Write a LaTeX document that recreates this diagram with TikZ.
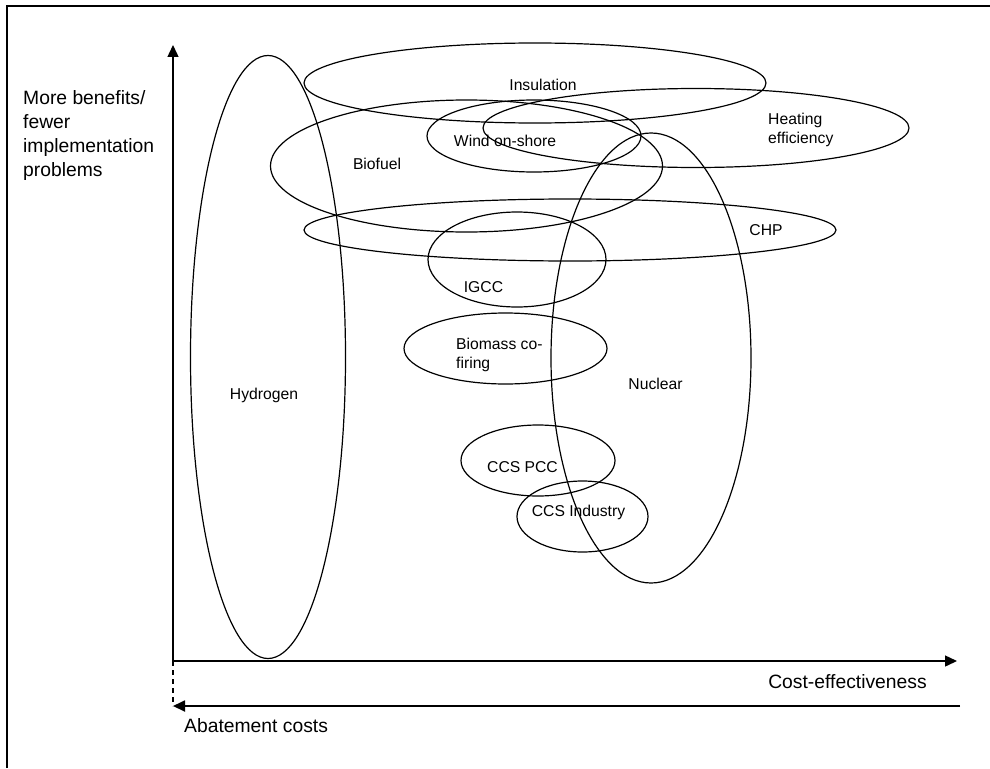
\documentclass[tikz,border=0pt]{standalone}
\usepackage{fontspec}
\setmainfont{Liberation Sans}
\usetikzlibrary{shapes.geometric,arrows.meta}

\tikzset{
  zone/.style={draw, ellipse, line width=1.2pt, inner sep=0pt},
  tag/.style={font=\fontsize{15.7}{19.5}\selectfont, inner sep=0pt},
  axistag/.style={font=\fontsize{19.3}{24}\selectfont, inner sep=0pt},
  axisline/.style={line width=1.4pt, -{Triangle[length=12pt,width=11pt]}}
}

\begin{document}
\begin{tikzpicture}[x=1pt, y=-1pt]
    \useasboundingbox (0,0) rectangle (990,768);

    % Cornice
    \draw[line width=2pt] (7,768) -- (7,6) -- (990,6);

    % Assi
    \coordinate (origin) at (173,661);
    \coordinate (ytip) at (173,45);
    \coordinate (xtip) at (957,661);
    \coordinate (xthick) at (897,661);
    \coordinate (abright) at (960,706);
    \coordinate (ableft) at (173,706);
    \draw[axisline] (origin) -- (ytip);
    \draw[axisline] (origin) -- (xtip);
    \draw[line width=2.2pt] (xthick) -- (946,661);
    \draw[line width=1.8pt, -{Triangle[length=12pt,width=11pt]}] (abright) -- (ableft);
    \draw[line width=1.2pt, dashed, dash pattern=on 5pt off 4pt] (origin) -- (ableft);

    \node[axistag, anchor=north west, align=left] (ylabel) at (23,90)
        {More benefits/\\fewer\\implementation\\problems};
    \node[axistag, anchor=base] (xlabel) at (847.5,688) {Cost-effectiveness};
    \node[axistag, anchor=base west] (ablabel) at (184,732) {Abatement costs};

    % Ellissi
    \node[zone, minimum width=155pt, minimum height=603pt] (hydrogen) at (268,357) {};
    \node[zone, minimum width=462pt, minimum height=80pt] (insulation) at (535,83) {};
    \node[zone, minimum width=426pt, minimum height=79pt] (heating) at (696,128) {};
    \node[zone, minimum width=392pt, minimum height=132pt] (biofuel) at (466.5,166) {};
    \node[zone, minimum width=214pt, minimum height=72pt] (wind) at (534,136) {};
    \node[zone, minimum width=200pt, minimum height=450pt] (nuclear) at (651,358) {};
    \node[zone, minimum width=532pt, minimum height=62pt] (chp) at (570,230) {};
    \node[zone, minimum width=178pt, minimum height=95pt] (igcc) at (517,259.5) {};
    \node[zone, minimum width=203pt, minimum height=71pt] (biomass) at (505.5,348.5) {};
    \node[zone, minimum width=154pt, minimum height=71pt] (ccspcc) at (538,460.5) {};
    \node[zone, minimum width=131pt, minimum height=71pt] (ccsind) at (582.5,516.5) {};

    % Etichette
    \node[tag, anchor=base] (insulationlabel) at (543,90) {Insulation};
    \node[tag, anchor=north west, align=left] (heatinglabel) at (768,112.5) {Heating\\efficiency};
    \node[tag, anchor=base] (windlabel) at (505,146) {Wind on-shore};
    \node[tag, anchor=base] (biofuellabel) at (377,169) {Biofuel};
    \node[tag, anchor=base] (chplabel) at (766,235.5) {CHP};
    \node[tag, anchor=base] (igcclabel) at (483.5,292.5) {IGCC};
    \node[tag, anchor=north west, align=left] (biomasslabel) at (456,337.5) {Biomass co-\\firing};
    \node[tag, anchor=base] (hydrogenlabel) at (264,399) {Hydrogen};
    \node[tag, anchor=base] (nuclearlabel) at (655.5,389.5) {Nuclear};
    \node[tag, anchor=base] (ccspcclabel) at (522.5,472.5) {CCS PCC};
    \node[tag, anchor=base] (ccsindlabel) at (578.5,516.5) {CCS Industry};

\end{tikzpicture}
\end{document}
